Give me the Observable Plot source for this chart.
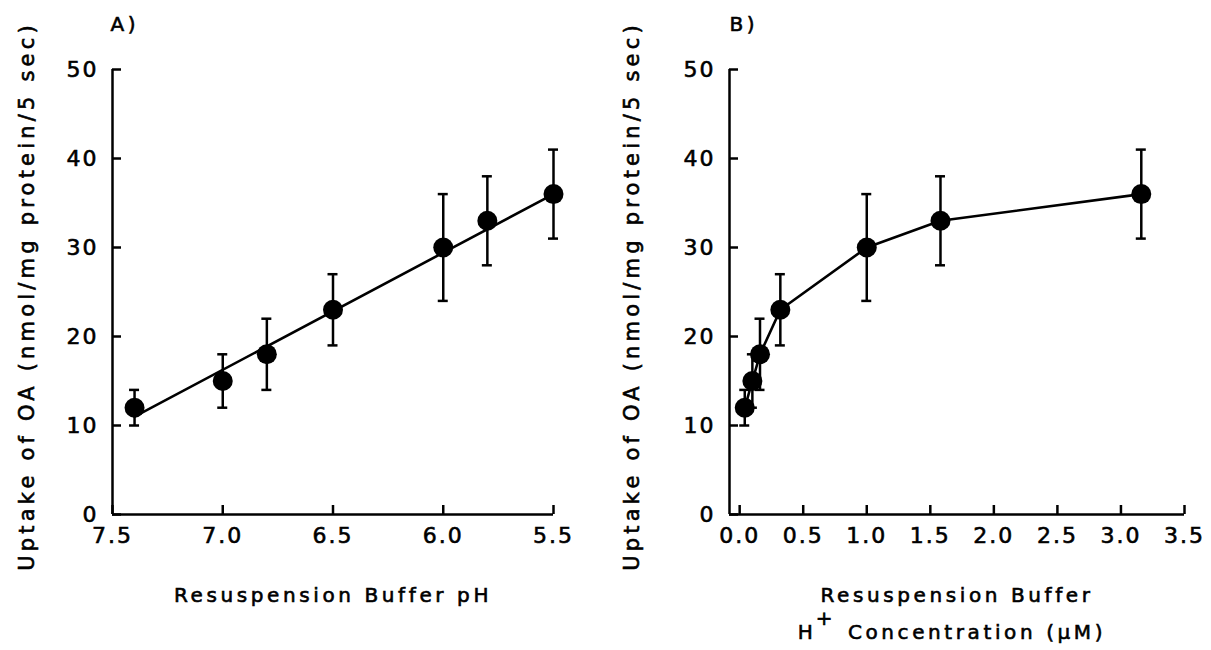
<!DOCTYPE html>
<html><head><meta charset="utf-8">
<script src="https://cdn.jsdelivr.net/npm/d3@7"></script>
<script src="https://cdn.jsdelivr.net/npm/@observablehq/plot@0.6"></script>
<style>
body{margin:0;background:#fff;}
#wrap{display:flex;width:1211px;height:650px;overflow:hidden;}
#wrap svg text{letter-spacing:3.6px;stroke:#000;stroke-width:0.6px;}
#wrap svg g[aria-label*="tick label"] text{letter-spacing:2px;}
#wrap svg g.ylab text{letter-spacing:4.2px;}
</style></head><body><div id="wrap"></div>
<script>
// Data
const pH = [7.4, 7.0, 6.8, 6.5, 6.0, 5.8, 5.5];
const hConc = [0.04, 0.10, 0.16, 0.32, 1.00, 1.58, 3.16]; // µM
const uptake = [12, 15, 18, 23, 30, 33, 36];
const errLow = [10, 12, 14, 19, 24, 28, 31];
const errHigh = [14, 18, 22, 27, 36, 38, 41];
// regression line in panel A
const fitPH = [7.4, 5.5];
const fitUptake = [11, 36];
// ticks & labels
const yTicks = [0, 10, 20, 30, 40, 50];
const xTicksA = [7.5, 7.0, 6.5, 6.0, 5.5];
const xTicksB = [0.0, 0.5, 1.0, 1.5, 2.0, 2.5, 3.0, 3.5];
const xDomainA = [7.5, 5.5];
const xDomainB = [-0.08, 3.5];
const yDomain = [0, 50];
const yLabel = "Uptake of OA (nmol/mg protein/5 sec)";
const xLabelA = "Resuspension Buffer pH";
const xLabelB1 = "Resuspension Buffer";
const xLabelB2a = "H";
const xLabelB2sup = "+";
const xLabelB2b = "Concentration (\u00b5M)";
const panelTags = ["A)", "B)"];

function rowsFor(xs) {
  return xs.map((x, i) => ({x, y: uptake[i], lo: errLow[i], hi: errHigh[i]}));
}

const T = {textAnchor: "middle", lineAnchor: "middle", fontSize: 20};

function panel({width, marginLeft, marginRight, xDomain, xTicks, xs, lineRows, tag, tagDx, extraMarks}) {
  const rows = rowsFor(xs);
  const x0 = xDomain[0];
  const sw = 2.5;
  return Plot.plot({
    width, height: 650,
    marginTop: 69, marginBottom: 136, marginLeft, marginRight,
    x: {domain: xDomain, ticks: xTicks, tickSize: 0, tickPadding: 13, tickFormat: d3.format(".1f"), label: null},
    y: {domain: yDomain, ticks: yTicks, tickSize: 0, tickPadding: 14, label: null},
    style: {fontFamily: "DejaVu Sans", fontSize: "22px", color: "black", background: "white", overflow: "visible"},
    marks: [
      Plot.ruleY([yDomain[0]], {x1: xDomain[0], x2: xDomain[1], strokeWidth: 2.5}),
      Plot.ruleX([x0], {y1: yDomain[0], y2: yDomain[1], strokeWidth: 2.5}),
      Plot.ruleX(xTicks, {x: d => d, y1: 0, y2: 0, insetTop: -9, strokeWidth: 2.5}),
      Plot.ruleY(yTicks, {y: d => d, x1: x0, x2: x0, insetRight: -9, strokeWidth: 2.5}),
      Plot.line(lineRows, {x: "x", y: "y", strokeWidth: 2.6}),
      Plot.ruleX(rows, {x: "x", y1: "lo", y2: "hi", strokeWidth: sw}),
      Plot.ruleY(rows, {y: "hi", x1: "x", x2: "x", insetLeft: -5, insetRight: -5, strokeWidth: sw}),
      Plot.ruleY(rows, {y: "lo", x1: "x", x2: "x", insetLeft: -5, insetRight: -5, strokeWidth: sw}),
      Plot.dot(rows, {x: "x", y: "y", r: 10, fill: "black", stroke: "none"}),
      Plot.text([yLabel], {...T, fontSize: 21, className: "ylab", text: d => d, frameAnchor: "left", dx: -marginLeft + 27, dy: 4, rotate: -90}),
      Plot.text([tag], {...T, text: d => d, frameAnchor: "top-left", textAnchor: "start", dx: tagDx, dy: -45}),
      ...extraMarks
    ]
  });
}

const A = panel({
  width: 605, marginLeft: 112, marginRight: 52,
  xDomain: xDomainA, xTicks: xTicksA, xs: pH,
  lineRows: fitPH.map((x, i) => ({x, y: fitUptake[i]})),
  tag: panelTags[0], tagDx: -2,
  extraMarks: [
    Plot.text([xLabelA], {...T, text: d => d, frameAnchor: "bottom", dy: 81})
  ]
});

const B = panel({
  width: 606, marginLeft: 124, marginRight: 27,
  xDomain: xDomainB, xTicks: xTicksB, xs: hConc,
  lineRows: hConc.map((x, i) => ({x, y: uptake[i]})),
  tag: panelTags[1], tagDx: 0,
  extraMarks: [
    Plot.text([xLabelB1], {...T, text: d => d, frameAnchor: "bottom", dy: 81}),
    Plot.text([xLabelB2a], {...T, text: d => d, frameAnchor: "bottom", dx: -150, dy: 118}),
    Plot.text([xLabelB2sup], {...T, text: d => d, frameAnchor: "bottom", dx: -131, dy: 104}),
    Plot.text([xLabelB2b], {...T, text: d => d, frameAnchor: "bottom", dx: 20, dy: 118})
  ]
});

document.getElementById("wrap").append(A, B);
</script>
</body></html>
